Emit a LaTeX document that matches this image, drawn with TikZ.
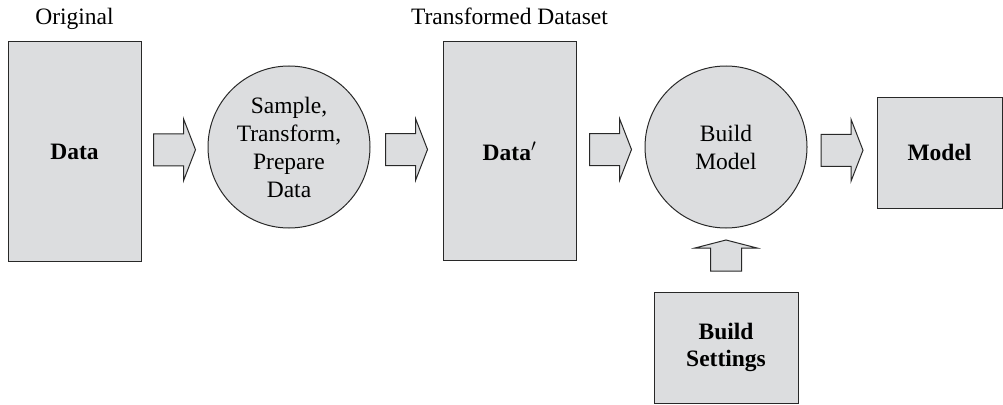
\documentclass[tikz,border=0pt]{standalone}
\usepackage{fontspec}
\setmainfont{Liberation Serif}
\usetikzlibrary{calc}
\definecolor{boxfill}{RGB}{220,221,223}
\definecolor{edge}{RGB}{40,40,40}
\tikzset{
  shapebase/.style={draw=edge, fill=boxfill, line width=1pt, inner sep=0pt, align=center,
    font=\fontsize{23.5}{28}\selectfont},
  databox/.style={shapebase, rectangle, minimum width=133pt, minimum height=219pt, font=\fontsize{23.5}{28}\selectfont\bfseries},
  smallbox/.style={shapebase, rectangle, minimum width=125pt, minimum height=111pt, font=\fontsize{23.5}{28}\selectfont\bfseries},
  setbox/.style={shapebase, rectangle, minimum width=144pt, minimum height=111pt, font=\fontsize{23.5}{27}\selectfont\bfseries},
  process/.style={shapebase, circle, minimum size=162pt},
  toplabel/.style={anchor=base, inner sep=0pt, font=\fontsize{23.5}{28}\selectfont},
  arrowshape/.style={draw=edge, fill=boxfill, line width=1pt, line join=miter},
  pics/harrow/.style={code={
    \draw[arrowshape] (-21,-16)--(9,-16)--(9,-31)--(21,0)--(9,31)--(9,16)--(-21,16)--cycle;}},
  pics/varrow/.style={code={
    \draw[arrowshape] (-15.5,15.5)--(-15.5,-7.5)--(-31,-7.5)--(0,-15.5)--(31,-7.5)--(15.5,-7.5)--(15.5,15.5)--cycle;}}
}
\begin{document}
\begin{tikzpicture}[x=1pt,y=-1pt]
\useasboundingbox (0,0) rectangle (1003,404);
\node[databox] (data) at (74.5,151.5) {Data};
\node[process] (prep) at (289,147) {Sample,\\Transform,\\Prepare\\Data};
\node[databox] (datap) at (509.5,151) {Data$'$};
\node[process] (build) at (726,147) {Build\\Model};
\node[smallbox] (model) at (939.5,152.5) {Model};
\node[setbox] (settings) at (726,347.5) {Build\\Settings};
\node[toplabel] (orig) at (74.5,25) {Original};
\node[toplabel] (trans) at (509.5,25) {Transformed Dataset};
\pic at ($($(data.east)!0.5!(prep.west)$ |- prep.center)+(0,0.5)$) {harrow};
\pic at ($($(prep.east)!0.5!(datap.west)$ |- prep.center)+(0,0.5)$) {harrow};
\pic at ($($(datap.east)!0.5!(build.west)$ |- build.center)+(0,0.5)$) {harrow};
\pic at ($($(build.east)!0.5!(model.west)$ |- build.center)+(0,0.5)$) {harrow};
\pic at ($(settings.north)!0.5!(build.south)+(0,-4.5)$) {varrow};
\end{tikzpicture}
\end{document}
